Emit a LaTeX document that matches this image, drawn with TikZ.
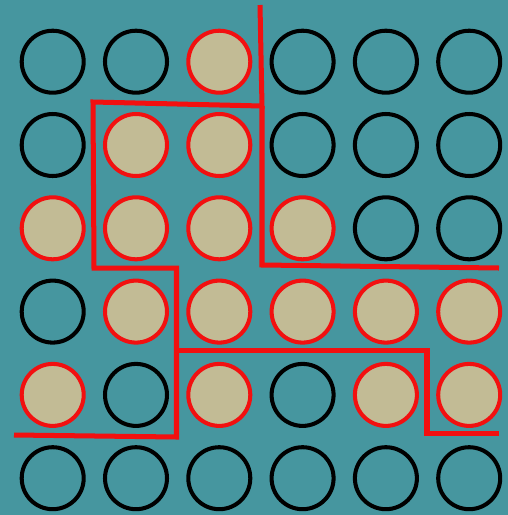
\documentclass[tikz,border=0pt]{standalone}
\usepackage{tikz}
\definecolor{pond}{RGB}{70,150,159}
\definecolor{sand}{RGB}{194,187,149}
\definecolor{cutred}{RGB}{242,16,16}
\tikzset{
  bead0/.style={circle, draw=black, line width=2.3pt, minimum size=1.24cm, inner sep=0pt},
  bead1/.style={bead0, draw=cutred, fill=sand},
  cutline/.style={cutred, line width=2.85pt, miter limit=4}
}

\begin{document}
\begin{tikzpicture}[x=0.02cm, y=-0.02cm]
\fill[pond] (0,0) rectangle (508,515);
\useasboundingbox (0,0) rectangle (508,515);
% board, 1 = marked
\foreach \r/\pat in {0/{0,0,1,0,0,0}, 1/{0,1,1,0,0,0}, 2/{1,1,1,1,0,0},
                     3/{0,1,1,1,1,1}, 4/{1,0,1,0,1,1}, 5/{0,0,0,0,0,0}}
  \foreach \v [count=\c from 0] in \pat
    \node[bead\v] (c\r\c) at ({52.7+83.3*\c},{61.7+83.3*\r}) {};
% red boundaries
\draw[cutline] (260,5) -- (262,106) -- (93,102) -- (94,268) -- (176.5,268) -- (176.5,437) -- (14,435);
\draw[cutline] (262,106) -- (262,265) -- (499,268);
\draw[cutline] (176.5,350) -- (427,350) -- (427,433) -- (499,433);
\end{tikzpicture}
\end{document}
